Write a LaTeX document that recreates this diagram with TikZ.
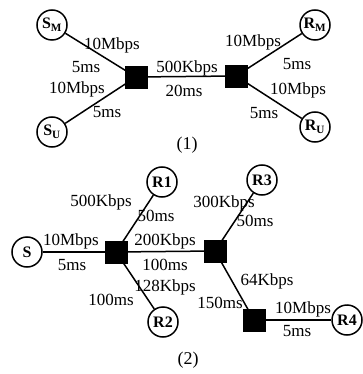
\documentclass[tikz,border=0pt]{standalone}
\usepackage{fontspec}
\setmainfont{Liberation Serif}
\begin{document}
\begin{tikzpicture}[x=1pt,y=-1pt,
  host/.style={circle,draw,line width=1.5pt,minimum size=30pt,inner sep=0pt,font=\fontsize{16}{17}\selectfont\bfseries},
  router/.style={rectangle,fill=black,draw=black,minimum size=22pt,inner sep=0pt},
  link/.style={line width=1.5pt},
  lbl/.style={inner sep=0pt,font=\fontsize{17}{19}\selectfont},
  caption/.style={inner sep=0pt,font=\fontsize{18}{20}\selectfont}]
\useasboundingbox (0,0) rectangle (363,374);
% Part 1
\node[host] (sm) at (52,25) {S\textsubscript{M}};
\node[host] (su) at (52,132) {S\textsubscript{U}};
\node[router] (a) at (136,77) {};
\node[router] (b) at (236,76) {};
\node[host] (rm) at (315,25) {R\textsubscript{M}};
\node[host] (ru) at (315,127) {R\textsubscript{U}};
\draw[link] (sm) -- (a.center);
\draw[link] (su) -- (a.center);
\draw[link] (a) -- (b);
\draw[link] (b.center) -- (rm);
\draw[link] (b.center) -- (ru);
\node[lbl] (l1) at (112,45) {10Mbps};
\node[lbl] (l2) at (86,67) {5ms};
\node[lbl] (l3) at (77,89) {10Mbps};
\node[lbl] (l4) at (107,112) {5ms};
\node[lbl] (l5) at (187,68) {500Kbps};
\node[lbl] (l6) at (184,91) {20ms};
\node[lbl] (l7) at (253,42) {10Mbps};
\node[lbl] (l8) at (297,64) {5ms};
\node[lbl] (l9) at (298,90) {10Mbps};
\node[lbl] (l10) at (264,113) {5ms};
\node[caption] (c1) at (187,145) {(1)};
% Part 2
\node[host] (s) at (27,252) {S};
\node[router] (p) at (116,252) {};
\node[router] (q) at (215,251) {};
\node[router] (r) at (254,320) {};
\node[host] (r1) at (162,182) {R1};
\node[host] (r2) at (163,322) {R2};
\node[host] (r3) at (262,180) {R3};
\node[host] (r4) at (347,320) {R4};
\draw[link] (s) -- (p);
\draw[link] (p.center) -- (r1);
\draw[link] (p.center) -- (r2);
\draw[link] (p) -- (q);
\draw[link] (q.center) -- (r3);
\draw[link] (q.center) -- (r.center);
\draw[link] (r) -- (r4);
\node[lbl] (m1) at (101,202) {500Kbps};
\node[lbl] (m2) at (156,216) {50ms};
\node[lbl] (m3) at (71,241) {10Mbps};
\node[lbl] (m4) at (72,265) {5ms};
\node[lbl] (m5) at (165,241) {200Kbps};
\node[lbl] (m6) at (165,265) {100ms};
\node[lbl] (m7) at (165,287) {128Kbps};
\node[lbl] (m8) at (111,300) {100ms};
\node[lbl] (m9) at (224,203) {300Kbps};
\node[lbl] (m10) at (255,221) {50ms};
\node[lbl] (m11) at (267,281) {64Kbps};
\node[lbl] (m12) at (220,303) {150ms};
\node[lbl] (m13) at (303,309) {10Mbps};
\node[lbl] (m14) at (297,331) {5ms};
\node[caption] (c2) at (188,360) {(2)};
\end{tikzpicture}
\end{document}
